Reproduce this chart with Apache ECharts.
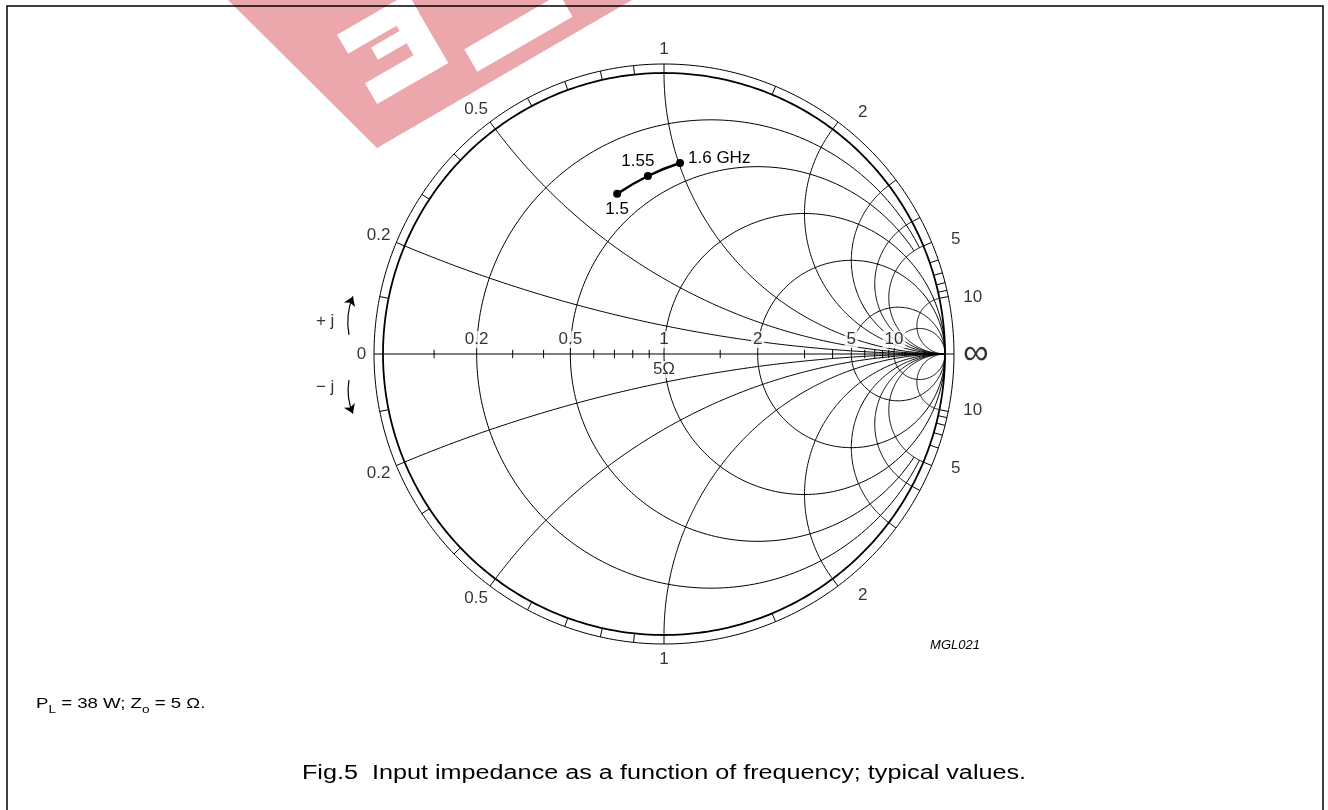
<!DOCTYPE html>
<html>
<head>
<meta charset="utf-8">
<script src="https://cdn.jsdelivr.net/npm/echarts/dist/echarts.min.js"></script>
<style>
  html, body { margin: 0; background: #fff; }
  #chart { width: 1328px; height: 810px; }
</style>
</head>
<body>
<div id="chart"></div>
<script>
// input impedance, ohms (Z0 = 5 ohm)
const freqGHz = [1.5, 1.55, 1.6];
const resistOhm = [1.92, 1.96, 1.98];
const reactOhm = [3.38, 4.17, 5.03];
const z0 = 5;

// smith chart grid
const rCircles = [0.2, 0.5, 1, 2, 5, 10];
const rTruncated = [0.2, 0.5];
const xArcs = [0.2, 0.5, 1, 2, 3, 4, 5, 10];
const ringTicks = [0.1, 0.2, 0.3, 0.4, 0.5, 0.6, 0.7, 0.8, 0.9, 1, 1.5, 2, 3, 4, 5, 6, 7, 8, 9, 10];
const axisTicks = [0.1, 0.3, 0.4, 0.6, 0.7, 0.8, 0.9, 1.5, 3, 4, 6, 7, 8, 9];
const axisLabels = [0.2, 0.5, 1, 2, 5, 10];
const ringLabels = [0.2, 0.5, 1, 2, 5, 10];

const FONT = '"Liberation Sans", Arial, sans-serif';
const RING = 1.032;
// where the outer labels sit: radius factor and a small turn towards the real axis (deg)
const ringLabelRadius = [1.1, 1.097, 1.085, 1.112, 1.115, 1.117];
const ringLabelTurn = [0, -0.7, 0, 2.6, 1.2, 1.1];

function gam(r, x) {
  const d = (r + 1) * (r + 1) + x * x;
  return [(r * r + x * x - 1) / d, 2 * x / d];
}

function arcPts(cx, cy, R, a0, a1, n) {
  const pts = [];
  for (let i = 0; i <= n; i++) {
    const a = a0 + (a1 - a0) * i / n;
    pts.push([cx + R * Math.cos(a), cy + R * Math.sin(a)]);
  }
  return pts;
}

const gridLines = [];
rCircles.forEach(r => {
  const c = r / (1 + r), R = 1 / (1 + r);
  let t0 = 0;
  if (rTruncated.includes(r)) {
    const p = gam(r, 5);
    t0 = Math.atan2(p[1], p[0] - c);
  }
  gridLines.push({ coords: arcPts(c, 0, R, t0, 2 * Math.PI - t0, 240) });
});
xArcs.forEach(x => {
  const p = gam(0, x);
  const a0 = Math.atan2(p[1] - 1 / x, p[0] - 1);
  const a1 = a0 < 0 ? -Math.PI / 2 : 1.5 * Math.PI;
  const pts = arcPts(1, 1 / x, 1 / x, a0, a1, 200);
  gridLines.push({ coords: pts });
  gridLines.push({ coords: pts.map(q => [q[0], -q[1]]) });
});
ringTicks.forEach(x => {
  [1, -1].forEach(s => {
    const p = gam(0, s * x);
    gridLines.push({ coords: [[p[0], p[1]], [p[0] * RING, p[1] * RING]] });
  });
});
axisTicks.forEach(r => {
  const g = (r - 1) / (r + 1);
  gridLines.push({ coords: [[g, -0.015], [g, 0.015]] });
});
gridLines.push({ coords: [[-RING, 0], [RING, 0]] });
gridLines.push({ coords: arcPts(0, 0, RING, 0, 2 * Math.PI, 360) });

const ringLabelData = [];
ringLabels.forEach((x, i) => {
  [1, -1].forEach(s => {
    const p = gam(0, s * x);
    let a = Math.atan2(p[1], p[0]);
    const turn = ringLabelTurn[i] * Math.PI / 180;
    a = a > 0 ? a - turn : a + turn;
    const k = ringLabelRadius[i];
    ringLabelData.push({ name: String(x), value: [k * Math.cos(a), k * Math.sin(a)] });
  });
});
ringLabelData.push({ name: '0', value: [-1.077, 0] });

const axisLabelData = axisLabels.map(r => ({ name: String(r), value: [(r - 1) / (r + 1), 0] }));

const curve = freqGHz.map((f, i) => gam(resistOhm[i] / z0, reactOhm[i] / z0));
const pointLabels = [
  { position: 'bottom', distance: 3, offset: [0, 0] },
  { position: 'top', distance: 3, offset: [-10, 1] },
  { position: 'right', distance: 4, offset: [0, -5] }
];
const curveData = curve.map((p, i) => ({
  value: p,
  label: Object.assign({
    show: true,
    formatter: i === freqGHz.length - 1 ? freqGHz[i] + ' GHz' : String(freqGHz[i])
  }, pointLabels[i])
}));

const chart = echarts.init(document.getElementById('chart'), null, { renderer: 'canvas' });

const SPAN = 1.25, PX = 281;
chart.setOption({
  animation: false,
  backgroundColor: '#fff',
  textStyle: { fontFamily: FONT },
  grid: {
    left: 664 - SPAN * PX,
    top: 354 - SPAN * PX,
    width: 2 * SPAN * PX,
    height: 2 * SPAN * PX
  },
  xAxis: { type: 'value', min: -SPAN, max: SPAN, show: false },
  yAxis: { type: 'value', min: -SPAN, max: SPAN, show: false },
  graphic: [
    {
      type: 'polygon', z: 0, silent: true,
      shape: { points: [[377, 148], [632, 0], [228, 0]] },
      style: { fill: '#eba7ac' }
    },
    {
      type: 'group', x: 377, y: 148, rotation: Math.PI / 6, z: 1, silent: true,
      children: [
        { type: 'rect', shape: { x: 125, y: -42, width: 110, height: 26 }, style: { fill: '#fff' } },
        { type: 'rect', shape: { x: 78, y: -118, width: 26, height: 80 }, style: { fill: '#fff' } },
        { type: 'rect', shape: { x: 22, y: -62, width: 82, height: 24 }, style: { fill: '#fff' } },
        { type: 'rect', shape: { x: 22, y: -118, width: 82, height: 22 }, style: { fill: '#fff' } },
        { type: 'rect', shape: { x: 45, y: -90, width: 40, height: 14 }, style: { fill: '#fff' } }
      ]
    },
    {
      type: 'rect', z: 10, silent: true,
      shape: { x: 7, y: 6, width: 1316, height: 830 },
      style: { fill: 'none', stroke: '#000', lineWidth: 1.5 }
    },
    {
      type: 'text', x: 955, y: 645, z: 10,
      style: { text: 'MGL021', font: 'italic 13px ' + FONT, fill: '#000', textAlign: 'center', textVerticalAlign: 'middle' }
    },
    {
      type: 'text', x: 36, y: 696, z: 10, scaleX: 1.24,
      style: {
        text: '{n|P}{s|L}{n| = 38 W; Z}{s|o}{n| = 5 Ω.}',
        fill: '#000',
        rich: {
          n: { fontSize: 15, lineHeight: 16, fontFamily: FONT, verticalAlign: 'top', fill: '#000' },
          s: { fontSize: 11, lineHeight: 11, fontFamily: FONT, padding: [8, 0, 0, 0], verticalAlign: 'top', fill: '#000' }
        }
      }
    },
    {
      type: 'text', x: 664, y: 773, z: 10, scaleX: 1.26,
      style: {
        text: 'Fig.5  Input impedance as a function of frequency; typical values.',
        font: '20px ' + FONT, fill: '#000', textAlign: 'center', textVerticalAlign: 'middle'
      }
    }
  ],
  series: [
    {
      type: 'lines', coordinateSystem: 'cartesian2d', polyline: true, silent: true, z: 2,
      lineStyle: { color: '#000', width: 1, opacity: 1 },
      data: gridLines
    },
    {
      type: 'lines', coordinateSystem: 'cartesian2d', polyline: true, silent: true, z: 2,
      lineStyle: { color: '#000', width: 1.8, opacity: 1 },
      data: [{ coords: arcPts(0, 0, 1, 0, 2 * Math.PI, 360) }]
    },
    {
      // +j / -j arrows
      type: 'lines', coordinateSystem: 'cartesian2d', silent: true, z: 2,
      symbol: ['none', 'arrow'], symbolSize: 9,
      lineStyle: { color: '#000', width: 1.2, opacity: 1, curveness: 0.15 },
      data: [
        { coords: [[-1.121, 0.068], [-1.107, 0.205]] },
        { coords: [[-1.121, -0.093], [-1.107, -0.212]], lineStyle: { curveness: -0.15 } }
      ]
    },
    {
      type: 'scatter', symbolSize: 0, silent: true, z: 3,
      label: { show: true, position: 'inside', formatter: '{b}', color: '#000', fontSize: 17, fontFamily: FONT },
      data: ringLabelData.concat([
        { name: '∞', value: [1.11, 0], label: { fontSize: 36 } },
        { name: '+ j', value: [-1.206, 0.115] },
        { name: '− j', value: [-1.206, -0.12] }
      ])
    },
    {
      type: 'scatter', symbolSize: 0, silent: true, z: 3,
      label: {
        show: true, position: 'top', distance: 6, formatter: '{b}', color: '#000',
        fontSize: 17, fontFamily: FONT, backgroundColor: '#fff', padding: [0, 2, 0, 2]
      },
      data: axisLabelData.concat([
        { name: '5Ω', value: [0, 0], label: { position: 'bottom', distance: 7, padding: [0, 1, 0, 1] } }
      ])
    },
    {
      type: 'line', z: 5, smooth: true, symbol: 'circle', symbolSize: 8,
      itemStyle: { color: '#000' },
      lineStyle: { color: '#000', width: 2.5 },
      label: { color: '#000', fontSize: 17, fontFamily: FONT },
      data: curveData
    }
  ]
});
</script>
</body>
</html>
